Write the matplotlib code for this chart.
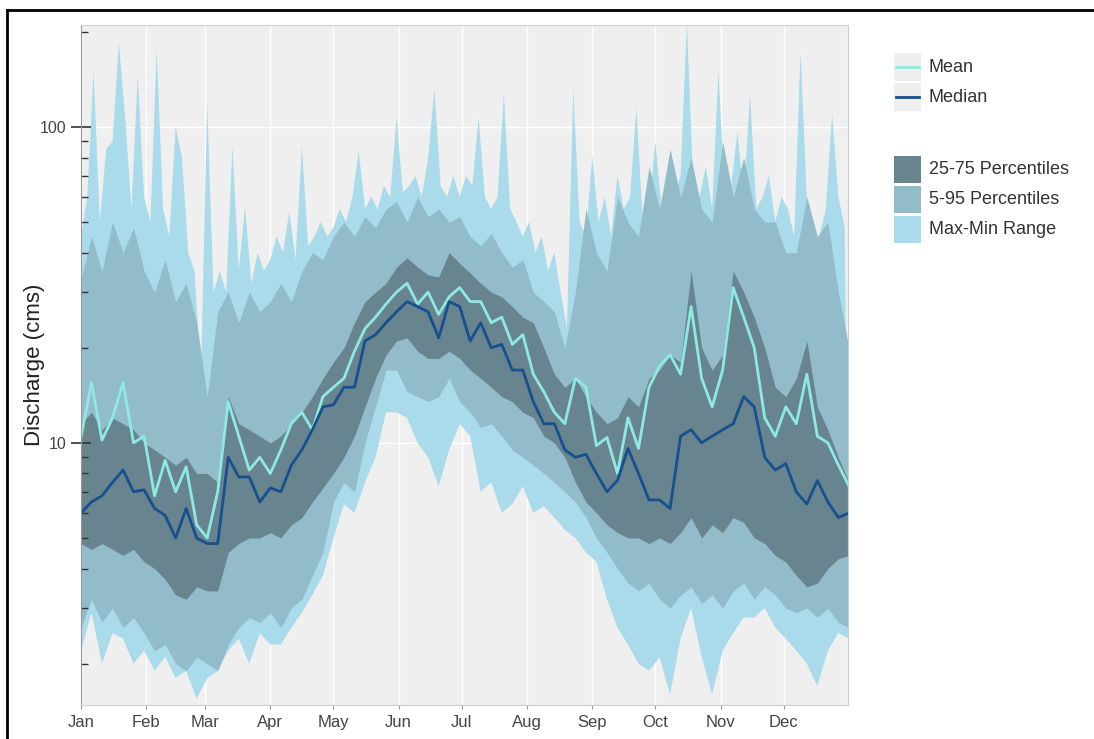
import numpy as np
import matplotlib
matplotlib.use("Agg")
import matplotlib.pyplot as plt
from matplotlib.patches import Rectangle
from matplotlib.lines import Line2D

plt.rcParams['font.family'] = ['Liberation Sans', 'DejaVu Sans']

# day of year, every 5 days (every 3 days for the spiky max)
days = np.arange(0, 366, 5)
max_days = np.arange(0, 364, 3)

q_max = [45, 60, 150, 50, 85, 90, 185, 107, 55, 145,
         60, 50, 175, 55, 45, 100, 80, 40, 35, 16,
         119, 30, 35, 30, 87, 35, 56, 32, 40, 35,
         38, 45, 40, 54, 38, 87, 42, 45, 50, 45,
         48, 55, 50, 60, 84, 55, 60, 55, 65, 60,
         107, 62, 65, 70, 60, 80, 132, 65, 60, 70,
         60, 70, 65, 107, 60, 55, 60, 127, 55, 50,
         45, 50, 40, 45, 35, 40, 30, 23, 132, 50,
         45, 81, 50, 60, 45, 70, 55, 60, 115, 50,
         55, 90, 55, 65, 60, 70, 215, 65, 60, 75,
         55, 150, 60, 65, 96, 60, 127, 55, 60, 70,
         50, 60, 55, 45, 173, 60, 40, 45, 55, 110,
         60, 48]
q95 = [33, 45, 35, 50, 40, 48, 35, 30, 38, 28,
       32, 24, 14, 26, 30, 24, 30, 26, 28, 32,
       28, 35, 40, 38, 45, 50, 45, 52, 48, 55,
       58, 50, 60, 52, 55, 50, 52, 45, 42, 46,
       40, 36, 38, 30, 28, 26, 20, 30, 55, 40,
       35, 60, 50, 45, 75, 55, 85, 60, 80, 55,
       50, 90, 60, 80, 55, 50, 50, 40, 40, 60,
       45, 50, 30, 20]
q75 = [11.5, 12.5, 11, 12, 11.5, 11, 10, 9.5, 9, 8.5,
       9, 8, 8, 7.5, 14, 11.5, 11, 10.5, 10, 10.5,
       11.5, 12.5, 14, 16, 18, 20, 24, 28, 30, 32,
       36, 38.5, 36, 34, 33.5, 40, 37, 34.5, 32, 30,
       29, 27, 25, 24, 20, 16.5, 15, 16, 14, 12.5,
       11.5, 12, 14, 13, 16, 17, 19, 18, 35, 20,
       17, 19, 35, 30, 25, 20, 15, 14, 16, 21,
       13, 11, 9, 7.5]
q25 = [4.8, 4.6, 4.8, 4.6, 4.4, 4.6, 4.2, 4.0, 3.7, 3.3,
       3.2, 3.5, 3.4, 3.4, 4.5, 4.8, 5.0, 5.0, 5.2, 5.0,
       5.5, 5.8, 6.5, 7.2, 8, 9, 10.5, 13, 16, 19,
       21, 21.5, 19.5, 18.5, 18.5, 19.5, 18.5, 17, 16, 15,
       14, 13.5, 12.5, 12, 10.5, 10, 9, 7.5, 6.5, 6,
       5.5, 5.2, 5, 5, 4.8, 5, 4.8, 5.2, 5.8, 5,
       5.5, 5.2, 5.8, 5.6, 5, 4.8, 4.4, 4.2, 3.8, 3.5,
       3.6, 4.0, 4.3, 4.4]
q05 = [2.6, 3.2, 2.7, 3.0, 2.6, 2.8, 2.5, 2.2, 2.3, 2.0,
       1.9, 2.1, 2.0, 1.9, 2.3, 2.6, 2.8, 2.7, 2.9, 2.6,
       3.0, 3.2, 3.8, 4.5, 6.5, 7.5, 7.0, 10, 13, 17,
       17, 14.5, 14, 13.5, 14, 16, 13.5, 12.5, 11.2, 11.5,
       10.5, 9.5, 9, 8.5, 8, 7.5, 7, 6.5, 5.8, 5,
       4.5, 4.0, 3.6, 3.4, 3.6, 3.2, 3.0, 3.3, 3.5, 3.1,
       3.3, 3.0, 3.4, 3.6, 3.2, 3.5, 3.3, 3.0, 2.9, 3.0,
       2.8, 3.0, 2.7, 2.6]
q_min = [2.2, 2.9, 2.0, 2.5, 2.4, 2.0, 2.2, 1.9, 2.1, 1.8,
         1.9, 1.55, 1.8, 1.9, 2.2, 2.4, 2.0, 2.5, 2.3, 2.3,
         2.6, 2.9, 3.3, 3.8, 5.0, 6.4, 6.0, 7.5, 9.0, 12.5,
         12.5, 12, 10, 9, 7.3, 9.5, 11.5, 10.5, 7, 7.5,
         6, 6.4, 7.3, 6, 6.3, 5.8, 5.3, 5, 4.5, 4.2,
         3.2, 2.6, 2.3, 2.0, 1.9, 2.1, 1.6, 2.4, 3.0, 2.1,
         1.6, 2.2, 2.5, 2.8, 2.8, 3.0, 2.6, 2.4, 2.2, 2.0,
         1.7, 2.2, 2.5, 2.4]
mean = [10.4, 15.5, 10.2, 12, 15.5, 10, 10.5, 6.8, 8.8, 7.0,
        8.4, 5.5, 5.0, 7.0, 13.5, 10.5, 8.2, 9.0, 8.0, 9.5,
        11.5, 12.5, 11, 14, 15, 16, 19.5, 23, 25, 27.5,
        30, 32, 27.5, 30, 25.5, 29, 31, 28, 28, 24,
        25, 20.5, 22, 16.5, 14.5, 12.5, 11.5, 16, 15, 9.8,
        10.4, 8.0, 12, 9.6, 15, 17.5, 19, 16.5, 27, 16,
        13, 17, 31, 25, 20, 12, 10.5, 13, 11.5, 16.5,
        10.5, 10, 8.5, 7.3]
median = [6.0, 6.5, 6.8, 7.5, 8.2, 7.0, 7.1, 6.2, 5.9, 5.0,
          6.2, 5.0, 4.8, 4.8, 9.0, 7.8, 7.8, 6.5, 7.2, 7.0,
          8.5, 9.5, 11, 13, 13.2, 15, 15, 21, 22, 24,
          26, 28, 27, 26, 21.5, 28, 27, 21, 24, 20,
          20.5, 17, 17, 13.5, 11.5, 11.5, 9.5, 9.0, 9.2, 8.0,
          7.0, 7.6, 9.6, 8.0, 6.6, 6.6, 6.2, 10.5, 11, 10,
          10.5, 11, 11.5, 14, 13, 9.0, 8.2, 8.6, 7.0, 6.4,
          7.6, 6.5, 5.8, 6.0]

month_starts = [0, 31, 59, 90, 120, 151, 181, 212, 243, 273, 304, 334]
month_names = ['Jan', 'Feb', 'Mar', 'Apr', 'May', 'Jun',
               'Jul', 'Aug', 'Sep', 'Oct', 'Nov', 'Dec']

c_light = '#a9dbea'
c_mid = '#93bccb'
c_dark = '#68858f'
c_mean = '#8eeae0'
c_median = '#17508e'

fig = plt.figure(figsize=(10.94, 7.39), dpi=100)
ax = fig.add_axes([0.074, 0.046, 0.701, 0.920])
ax.set_facecolor('#efefef')

# white grid under the data
for m in month_starts:
    ax.axvline(m, color='white', lw=1, zorder=0.5)
for v in [10, 100]:
    ax.axhline(v, color='white', lw=1, zorder=0.5)

# max-min band: upper edge on its own 3-day grid
ax.fill(np.concatenate([max_days, days[::-1]]),
        np.concatenate([q_max, q_min[::-1]]), color=c_light, lw=0, zorder=1)
ax.fill_between(days, q05, q95, color=c_mid, lw=0, zorder=1)
ax.fill_between(days, q25, q75, color=c_dark, lw=0, zorder=1)
ax.plot(days, mean, color=c_mean, lw=2, zorder=2)
ax.plot(days, median, color=c_median, lw=2, zorder=2)

ax.set_yscale('log')
ax.set_ylim(1.48, 210)
ax.set_xlim(0, 364.5)
ax.set_yticks([10, 100])
ax.set_yticklabels(['10', '100'])
ax.set_xticks(month_starts)
ax.set_xticklabels(month_names)

ax.tick_params(axis='x', length=3, color='#999999', labelsize=12,
               labelcolor='#444444', pad=4)
ax.tick_params(axis='y', which='major', direction='inout', length=14,
               width=1.2, color='#333333', labelsize=11.5, labelcolor='#444444')
ax.tick_params(axis='y', which='minor', direction='in', length=5,
               width=1, color='#333333')
for s in ['top', 'right', 'bottom']:
    ax.spines[s].set_color('#cfcfcf')
ax.spines['left'].set_color('#999999')
ax.set_ylabel('Discharge (cms)', fontsize=16, color='#222222', labelpad=-4)

# legend drawn by hand
def fx(px):
    return px / 1094

def fy(py):
    return 1 - py / 739

for py, col, lab in [(67, c_mean, 'Mean'), (97, c_median, 'Median')]:
    fig.add_artist(Rectangle((fx(894), fy(py + 14)), fx(27), 28 / 739,
                             color='#efefef', lw=0, transform=fig.transFigure))
    fig.add_artist(Line2D([fx(896), fx(919)], [fy(py), fy(py)], color=col,
                          lw=2, transform=fig.transFigure))
    fig.text(fx(929), fy(py), lab, fontsize=13, va='center', color='#333333')

for py, col, lab in [(170, c_dark, '25-75 Percentiles'),
                     (200, c_mid, '5-95 Percentiles'),
                     (230, c_light, 'Max-Min Range')]:
    fig.add_artist(Rectangle((fx(894), fy(py + 13)), fx(27), 27 / 739,
                             color=col, lw=0, transform=fig.transFigure))
    fig.text(fx(929), fy(py), lab, fontsize=13, va='center', color='#333333')

# screenshot frame (top and left edges only)
fig.add_artist(Line2D([fx(7), 1], [fy(10), fy(10)], color='black', lw=2,
                      transform=fig.transFigure))
fig.add_artist(Line2D([fx(7), fx(7)], [fy(10), 0], color='black', lw=2,
                      transform=fig.transFigure))

fig.savefig('out.png', dpi=100)
